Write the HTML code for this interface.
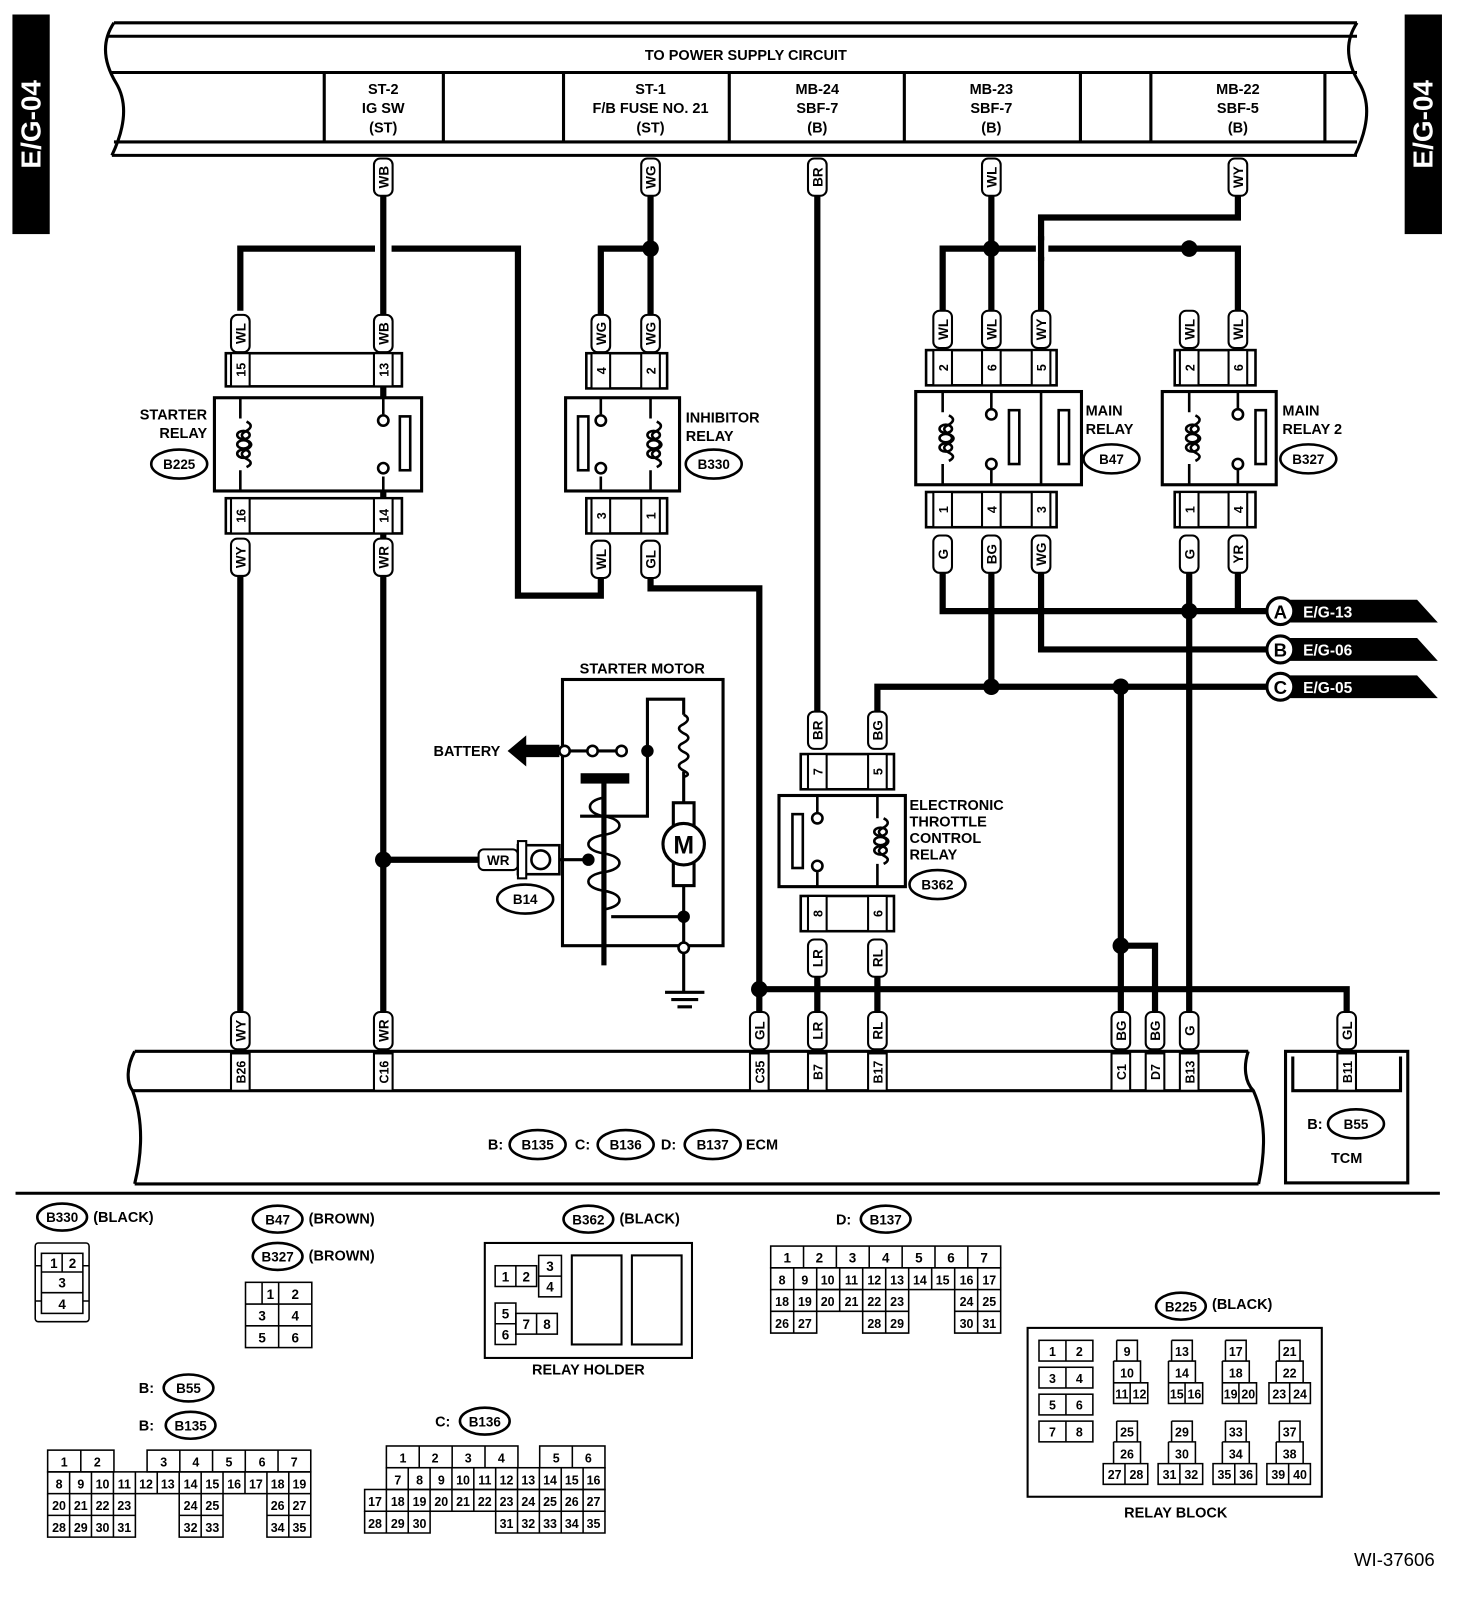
<!DOCTYPE html>
<html><head><meta charset="utf-8"><style>
html,body{margin:0;padding:0;background:#fff}
svg{display:block}
text{font-family:"Liberation Sans",Arial,sans-serif;font-weight:bold;fill:#000}
</style></head><body>
<svg width="1472" height="1620" viewBox="0 0 1421 1564" preserveAspectRatio="none" xmlns="http://www.w3.org/2000/svg">
<defs>
<g id="coil"><path d="M0,-22 q8,4 0,9 q-9,4 0,9 q9,4 0,9 q-9,4 0,9 q8,4 0,8" fill="none" stroke="#000" stroke-width="2.5"/>
<ellipse cx="-3" cy="-9" rx="6" ry="4" fill="none" stroke="#000" stroke-width="2.5"/><ellipse cx="-3" cy="0" rx="6" ry="4" fill="none" stroke="#000" stroke-width="2.5"/><ellipse cx="-3" cy="9" rx="6" ry="4" fill="none" stroke="#000" stroke-width="2.5"/></g>
</defs>

<rect x="12" y="14" width="36" height="212" fill="#000"/>
<text transform="translate(39,120) rotate(-90)" text-anchor="middle" font-size="27" style="fill:#fff">E/G-04</text>
<rect x="1356" y="14" width="36" height="212" fill="#000"/>
<text transform="translate(1383,120) rotate(-90)" text-anchor="middle" font-size="27" style="fill:#fff">E/G-04</text>

<g fill="none" stroke="#000" stroke-width="3">
<path d="M110,22 H1310 M104,35 H1310 M106,70 H1310 M110,137 H1310 M108,150 H1310"/>
<path d="M110,22 C98,40 100,60 112,80 C124,100 120,125 108,150"/>
<path d="M313,70V137 M428,70V137 M544,70V137 M704,70V137 M873,70V137 M1043,70V137 M1111,70V137 M1279,70V137"/>
</g>
<rect x="1312" y="20" width="40" height="135" fill="#fff"/>
<path d="M1310,22 C1298,40 1300,60 1312,80 C1324,100 1320,125 1308,150" fill="none" stroke="#000" stroke-width="3"/>
<g font-size="14" text-anchor="middle">
<text x="720" y="58">TO POWER SUPPLY CIRCUIT</text>
<text x="370" y="91">ST-2</text><text x="370" y="109">IG SW</text><text x="370" y="128">(ST)</text>
<text x="628" y="91">ST-1</text><text x="628" y="109">F/B FUSE NO. 21</text><text x="628" y="128">(ST)</text>
<text x="789" y="91">MB-24</text><text x="789" y="109">SBF-7</text><text x="789" y="128">(B)</text>
<text x="957" y="91">MB-23</text><text x="957" y="109">SBF-7</text><text x="957" y="128">(B)</text>
<text x="1195" y="91">MB-22</text><text x="1195" y="109">SBF-5</text><text x="1195" y="128">(B)</text>
</g>

<g fill="none" stroke="#000" stroke-width="6">
<path d="M370,185V1020"/>
<path d="M232,300V240H362 M378,240H500V575H580V555"/>
<path d="M232,555V1020"/>
<path d="M628,185V305 M580,305V240H628"/>
<path d="M628,555V568H733V1020"/>
<path d="M733,955H1300V1020"/>
<path d="M789,185V690 M789,940V1020 M847,940V1020"/>
<path d="M847,690V663H1222"/>
<path d="M957,185V300 M910,300V240H1195V300"/>
<path d="M1195,185V210H1005V300"/>
<path d="M910,550V590H1222 M1148,550V1020 M1195,550V590"/>
<path d="M957,550V663 M1005,550V627H1222"/>
<path d="M1082,663V1020 M1082,913H1115V1020"/>
<path d="M370,830H462"/>
</g>
<rect x="1000" y="232" width="12" height="16" fill="#fff"/>
<path d="M1005,228V252" stroke="#000" stroke-width="6"/>
<g fill="#000">
<circle cx="628" cy="240" r="8"/><circle cx="957" cy="240" r="8"/><circle cx="1148" cy="240" r="8"/>
<circle cx="1148" cy="590" r="8"/><circle cx="957" cy="663" r="8"/><circle cx="1082" cy="663" r="8"/>
<circle cx="1082" cy="913" r="8"/><circle cx="733" cy="955" r="8"/><circle cx="370" cy="830" r="8"/>
</g>

<g stroke="#000" stroke-width="2" fill="#fff">
<rect x="361" y="153" width="18" height="36" rx="6"/><rect x="619" y="153" width="18" height="36" rx="6"/>
<rect x="780" y="153" width="18" height="36" rx="6"/><rect x="948" y="153" width="18" height="36" rx="6"/>
<rect x="1186" y="153" width="18" height="36" rx="6"/>
<rect x="223" y="304" width="18" height="36" rx="6"/><rect x="361" y="304" width="18" height="36" rx="6"/>
<rect x="571" y="304" width="18" height="36" rx="6"/><rect x="619" y="304" width="18" height="36" rx="6"/>
<rect x="901" y="300" width="18" height="36" rx="6"/><rect x="948" y="300" width="18" height="36" rx="6"/><rect x="996" y="300" width="18" height="36" rx="6"/>
<rect x="1139" y="300" width="18" height="36" rx="6"/><rect x="1186" y="300" width="18" height="36" rx="6"/>
<rect x="223" y="520" width="18" height="36" rx="6"/><rect x="361" y="520" width="18" height="36" rx="6"/>
<rect x="571" y="522" width="18" height="36" rx="6"/><rect x="619" y="522" width="18" height="36" rx="6"/>
<rect x="901" y="517" width="18" height="36" rx="6"/><rect x="948" y="517" width="18" height="36" rx="6"/><rect x="996" y="517" width="18" height="36" rx="6"/>
<rect x="1139" y="517" width="18" height="36" rx="6"/><rect x="1186" y="517" width="18" height="36" rx="6"/>
<rect x="780" y="687" width="18" height="36" rx="6"/><rect x="838" y="687" width="18" height="36" rx="6"/>
<rect x="780" y="907" width="18" height="36" rx="6"/><rect x="838" y="907" width="18" height="36" rx="6"/>
<rect x="223" y="977" width="18" height="36" rx="6"/><rect x="361" y="977" width="18" height="36" rx="6"/>
<rect x="724" y="977" width="18" height="36" rx="6"/><rect x="780" y="977" width="18" height="36" rx="6"/>
<rect x="838" y="977" width="18" height="36" rx="6"/><rect x="1073" y="977" width="18" height="36" rx="6"/>
<rect x="1106" y="977" width="18" height="36" rx="6"/><rect x="1139" y="977" width="18" height="36" rx="6"/>
<rect x="1291" y="977" width="18" height="36" rx="6"/>
</g>
<g font-size="13" text-anchor="middle">
<text transform="translate(375,171) rotate(-90)">WB</text><text transform="translate(633,171) rotate(-90)">WG</text>
<text transform="translate(794,171) rotate(-90)">BR</text><text transform="translate(962,171) rotate(-90)">WL</text>
<text transform="translate(1200,171) rotate(-90)">WY</text>
<text transform="translate(237,322) rotate(-90)">WL</text><text transform="translate(375,322) rotate(-90)">WB</text>
<text transform="translate(585,322) rotate(-90)">WG</text><text transform="translate(633,322) rotate(-90)">WG</text>
<text transform="translate(915,318) rotate(-90)">WL</text><text transform="translate(962,318) rotate(-90)">WL</text><text transform="translate(1010,318) rotate(-90)">WY</text>
<text transform="translate(1153,318) rotate(-90)">WL</text><text transform="translate(1200,318) rotate(-90)">WL</text>
<text transform="translate(237,538) rotate(-90)">WY</text><text transform="translate(375,538) rotate(-90)">WR</text>
<text transform="translate(585,540) rotate(-90)">WL</text><text transform="translate(633,540) rotate(-90)">GL</text>
<text transform="translate(915,535) rotate(-90)">G</text><text transform="translate(962,535) rotate(-90)">BG</text><text transform="translate(1010,535) rotate(-90)">WG</text>
<text transform="translate(1153,535) rotate(-90)">G</text><text transform="translate(1200,535) rotate(-90)">YR</text>
<text transform="translate(794,705) rotate(-90)">BR</text><text transform="translate(852,705) rotate(-90)">BG</text>
<text transform="translate(794,925) rotate(-90)">LR</text><text transform="translate(852,925) rotate(-90)">RL</text>
<text transform="translate(237,995) rotate(-90)">WY</text><text transform="translate(375,995) rotate(-90)">WR</text>
<text transform="translate(738,995) rotate(-90)">GL</text><text transform="translate(794,995) rotate(-90)">LR</text>
<text transform="translate(852,995) rotate(-90)">RL</text><text transform="translate(1087,995) rotate(-90)">BG</text>
<text transform="translate(1120,995) rotate(-90)">BG</text><text transform="translate(1153,995) rotate(-90)">G</text>
<text transform="translate(1305,995) rotate(-90)">GL</text>
</g>

<g fill="#fff" stroke="#000" stroke-width="2.5">
<rect x="218" y="341" width="170" height="32"/><rect x="218" y="481" width="170" height="34"/>
<rect x="566" y="341" width="78" height="34"/><rect x="566" y="481" width="78" height="34"/>
<rect x="894" y="338" width="126" height="34"/><rect x="894" y="475" width="126" height="34"/>
<rect x="1134" y="338" width="78" height="34"/><rect x="1134" y="475" width="78" height="34"/>
<rect x="773" y="728" width="90" height="34"/><rect x="773" y="865" width="90" height="34"/>
</g>
<g fill="#fff" stroke="#000" stroke-width="2">
<rect x="223" y="341" width="18" height="32"/><rect x="361" y="341" width="18" height="32"/>
<rect x="223" y="481" width="18" height="34"/><rect x="361" y="481" width="18" height="34"/>
<rect x="571" y="341" width="18" height="34"/><rect x="619" y="341" width="18" height="34"/>
<rect x="571" y="481" width="18" height="34"/><rect x="619" y="481" width="18" height="34"/>
<rect x="901" y="338" width="18" height="34"/><rect x="948" y="338" width="18" height="34"/><rect x="996" y="338" width="18" height="34"/>
<rect x="901" y="475" width="18" height="34"/><rect x="948" y="475" width="18" height="34"/><rect x="996" y="475" width="18" height="34"/>
<rect x="1139" y="338" width="18" height="34"/><rect x="1186" y="338" width="18" height="34"/>
<rect x="1139" y="475" width="18" height="34"/><rect x="1186" y="475" width="18" height="34"/>
<rect x="780" y="728" width="18" height="34"/><rect x="838" y="728" width="18" height="34"/>
<rect x="780" y="865" width="18" height="34"/><rect x="838" y="865" width="18" height="34"/>
</g>
<g font-size="12" text-anchor="middle">
<text transform="translate(237,357) rotate(-90)">15</text><text transform="translate(375,357) rotate(-90)">13</text>
<text transform="translate(237,498) rotate(-90)">16</text><text transform="translate(375,498) rotate(-90)">14</text>
<text transform="translate(585,358) rotate(-90)">4</text><text transform="translate(633,358) rotate(-90)">2</text>
<text transform="translate(585,498) rotate(-90)">3</text><text transform="translate(633,498) rotate(-90)">1</text>
<text transform="translate(915,355) rotate(-90)">2</text><text transform="translate(962,355) rotate(-90)">6</text><text transform="translate(1010,355) rotate(-90)">5</text>
<text transform="translate(915,492) rotate(-90)">1</text><text transform="translate(962,492) rotate(-90)">4</text><text transform="translate(1010,492) rotate(-90)">3</text>
<text transform="translate(1153,355) rotate(-90)">2</text><text transform="translate(1200,355) rotate(-90)">6</text>
<text transform="translate(1153,492) rotate(-90)">1</text><text transform="translate(1200,492) rotate(-90)">4</text>
<text transform="translate(794,745) rotate(-90)">7</text><text transform="translate(852,745) rotate(-90)">5</text>
<text transform="translate(794,882) rotate(-90)">8</text><text transform="translate(852,882) rotate(-90)">6</text>
</g>

<g fill="#fff" stroke="#000" stroke-width="3">
<rect x="207" y="384" width="200" height="90"/>
<rect x="546" y="384" width="110" height="90"/>
<rect x="884" y="378" width="160" height="90"/>
<rect x="1122" y="378" width="110" height="90"/>
<rect x="752" y="768" width="122" height="88"/>
</g>
<g fill="none" stroke="#000" stroke-width="2.5">
<path d="M232,384V404 M232,454V474 M370,384V400 M370,460V474"/>
<circle cx="370" cy="406" r="5" fill="#fff"/><circle cx="370" cy="452" r="5" fill="#fff"/>
<rect x="386" y="402" width="10" height="52"/>
<path d="M580,384V400 M580,460V474 M628,384V404 M628,454V474"/>
<circle cx="580" cy="406" r="5" fill="#fff"/><circle cx="580" cy="452" r="5" fill="#fff"/>
<rect x="558" y="402" width="10" height="52"/>
<path d="M910,378V398 M910,448V468 M957,378V394 M957,454V468 M1005,378V468"/>
<circle cx="957" cy="400" r="5" fill="#fff"/><circle cx="957" cy="448" r="5" fill="#fff"/>
<rect x="974" y="396" width="10" height="52"/><rect x="1022" y="396" width="10" height="52"/>
<path d="M1148,378V398 M1148,448V468 M1195,378V394 M1195,454V468"/>
<circle cx="1195" cy="400" r="5" fill="#fff"/><circle cx="1195" cy="448" r="5" fill="#fff"/>
<rect x="1212" y="396" width="10" height="52"/>
<path d="M789,768V784 M789,842V856 M847,768V790 M847,834V856"/>
<circle cx="789" cy="790" r="5" fill="#fff"/><circle cx="789" cy="836" r="5" fill="#fff"/>
<rect x="765" y="786" width="10" height="52"/>
</g>
<use href="#coil" x="238" y="429"/><use href="#coil" x="634" y="429"/>
<use href="#coil" x="916" y="423"/><use href="#coil" x="1154" y="423"/><use href="#coil" x="853" y="812"/>

<g font-size="14">
<text x="200" y="405" text-anchor="end">STARTER</text><text x="200" y="423" text-anchor="end">RELAY</text>
<text x="662" y="408">INHIBITOR</text><text x="662" y="426">RELAY</text>
<text x="1048" y="401">MAIN</text><text x="1048" y="419">RELAY</text>
<text x="1238" y="401">MAIN</text><text x="1238" y="419">RELAY 2</text>
<text x="878" y="782">ELECTRONIC</text><text x="878" y="798">THROTTLE</text><text x="878" y="814">CONTROL</text><text x="878" y="830">RELAY</text>
<text x="620" y="650" text-anchor="middle">STARTER MOTOR</text>
<text x="483" y="730" text-anchor="end">BATTERY</text>
</g>
<g fill="#fff" stroke="#000" stroke-width="2.5">
<ellipse cx="173" cy="448" rx="27" ry="14"/><ellipse cx="689" cy="448" rx="27" ry="14"/>
<ellipse cx="1073" cy="443" rx="27" ry="14"/><ellipse cx="1263" cy="443" rx="27" ry="14"/>
<ellipse cx="905" cy="854" rx="27" ry="14"/><ellipse cx="507" cy="868" rx="27" ry="14"/>
</g>
<g font-size="13" text-anchor="middle">
<text x="173" y="453">B225</text><text x="689" y="453">B330</text><text x="1073" y="448">B47</text>
<text x="1263" y="448">B327</text><text x="905" y="859">B362</text><text x="507" y="873">B14</text>
</g>

<g>
<path d="M1236,579H1368L1388,601H1236Z" fill="#000"/>
<path d="M1236,616H1368L1388,638H1236Z" fill="#000"/>
<path d="M1236,652H1368L1388,674H1236Z" fill="#000"/>
<circle cx="1236" cy="590" r="13" fill="#fff" stroke="#000" stroke-width="3"/>
<circle cx="1236" cy="627" r="13" fill="#fff" stroke="#000" stroke-width="3"/>
<circle cx="1236" cy="663" r="13" fill="#fff" stroke="#000" stroke-width="3"/>
<g font-size="18" text-anchor="middle"><text x="1236" y="597">A</text><text x="1236" y="634">B</text><text x="1236" y="670">C</text></g>
<g font-size="15"><text x="1258" y="596" style="fill:#fff">E/G-13</text><text x="1258" y="633" style="fill:#fff">E/G-06</text><text x="1258" y="669" style="fill:#fff">E/G-05</text></g>
</g>

<g fill="none" stroke="#000" stroke-width="3">
<rect x="543" y="656" width="155" height="257"/>
<path d="M545,725H600 M625,725V675H660V690 M660,745V775 M625,725V788H560 M660,855V915 M660,915V958 M590,885H660"/>
<path d="M660,690 q8,4 0,9 q-9,4 0,9 q9,4 0,9 q-9,4 0,9 q9,4 0,9 q-9,4 0,9 q8,4 0,6" stroke-width="2.5"/>
<rect x="650" y="775" width="20" height="80" fill="#fff"/>
<circle cx="660" cy="815" r="20" fill="#fff"/>
<rect x="562" y="748" width="44" height="7" fill="#000"/>
<path d="M583,755V932" stroke-width="5"/>
<path d="M583,770 c-18,3 -18,15 0,18 c20,3 20,15 0,18 c-20,3 -20,15 0,18 c20,3 20,15 0,18 c-20,3 -20,15 0,18 c20,3 20,15 0,18" stroke-width="2.5"/>
<path d="M642,958H680 M648,965H674 M654,972H668"/>
</g>
<text x="660" y="824" font-size="24" text-anchor="middle">M</text>
<g fill="#fff" stroke="#000" stroke-width="2.5">
<circle cx="545" cy="725" r="5"/><circle cx="572" cy="725" r="5"/><circle cx="600" cy="725" r="5"/>
<circle cx="660" cy="915" r="5"/>
</g>
<circle cx="625" cy="725" r="6" fill="#000"/><circle cx="660" cy="885" r="6" fill="#000"/><circle cx="568" cy="830" r="6" fill="#000"/>
<path d="M540,830H568" stroke="#000" stroke-width="3"/>
<path d="M490,725L508,710V719H540V731H508V740Z" fill="#000"/>
<rect x="462" y="820" width="38" height="20" rx="5" fill="#fff" stroke="#000" stroke-width="2"/>
<text x="481" y="835" font-size="13" text-anchor="middle">WR</text>
<rect x="500" y="816" width="40" height="28" fill="#fff" stroke="#000" stroke-width="2.5"/>
<rect x="500" y="812" width="8" height="36" fill="#fff" stroke="#000" stroke-width="2"/>
<circle cx="522" cy="830" r="9" fill="#fff" stroke="#000" stroke-width="2.5"/>

<g fill="none" stroke="#000" stroke-width="3">
<path d="M130,1015H1205 M128,1053H1210 M130,1143H1215"/>
<path d="M130,1015 C122,1030 122,1045 128,1053 C138,1080 138,1110 130,1143"/>
<path d="M1205,1015 C1200,1030 1202,1045 1210,1053 C1222,1080 1222,1110 1215,1143"/>
<rect x="1241" y="1015" width="118" height="127"/>
<path d="M1248,1020V1053H1352V1020"/>
<path d="M15,1152H1390"/>
</g>
<g fill="#fff" stroke="#000" stroke-width="2">
<rect x="223" y="1017" width="18" height="36"/><rect x="361" y="1017" width="18" height="36"/>
<rect x="724" y="1017" width="18" height="36"/><rect x="780" y="1017" width="18" height="36"/>
<rect x="838" y="1017" width="18" height="36"/><rect x="1073" y="1017" width="18" height="36"/>
<rect x="1106" y="1017" width="18" height="36"/><rect x="1139" y="1017" width="18" height="36"/>
<rect x="1291" y="1017" width="18" height="36"/>
</g>
<g font-size="12" text-anchor="middle">
<text transform="translate(237,1035) rotate(-90)">B26</text><text transform="translate(375,1035) rotate(-90)">C16</text>
<text transform="translate(738,1035) rotate(-90)">C35</text><text transform="translate(794,1035) rotate(-90)">B7</text>
<text transform="translate(852,1035) rotate(-90)">B17</text><text transform="translate(1087,1035) rotate(-90)">C1</text>
<text transform="translate(1120,1035) rotate(-90)">D7</text><text transform="translate(1153,1035) rotate(-90)">B13</text>
<text transform="translate(1305,1035) rotate(-90)">B11</text>
</g>
<g fill="#fff" stroke="#000" stroke-width="2.5">
<ellipse cx="519" cy="1105" rx="27" ry="14"/><ellipse cx="604" cy="1105" rx="27" ry="14"/>
<ellipse cx="688" cy="1105" rx="27" ry="14"/><ellipse cx="1309" cy="1085" rx="27" ry="14"/>
</g>
<g font-size="14">
<text x="471" y="1110">B:</text><text x="519" y="1110" text-anchor="middle" font-size="13">B135</text>
<text x="555" y="1110">C:</text><text x="604" y="1110" text-anchor="middle" font-size="13">B136</text>
<text x="638" y="1110">D:</text><text x="688" y="1110" text-anchor="middle" font-size="13">B137</text>
<text x="720" y="1110">ECM</text>
<text x="1262" y="1090">B:</text><text x="1309" y="1090" text-anchor="middle" font-size="13">B55</text>
<text x="1300" y="1123" text-anchor="middle">TCM</text>
</g>

<g fill="#fff" stroke="#000" stroke-width="2.5">
<ellipse cx="60" cy="1175" rx="24" ry="13"/><ellipse cx="268" cy="1177" rx="24" ry="13"/><ellipse cx="268" cy="1213" rx="24" ry="13"/>
<ellipse cx="568" cy="1177" rx="24" ry="13"/><ellipse cx="855" cy="1177" rx="24" ry="13"/><ellipse cx="1140" cy="1261" rx="24" ry="13"/>
<ellipse cx="182" cy="1340" rx="24" ry="13"/><ellipse cx="184" cy="1376" rx="24" ry="13"/><ellipse cx="468" cy="1372" rx="24" ry="13"/>
</g>
<g font-size="13" text-anchor="middle">
<text x="60" y="1180">B330</text><text x="268" y="1182">B47</text><text x="268" y="1218">B327</text>
<text x="568" y="1182">B362</text><text x="855" y="1182">B137</text><text x="1140" y="1266">B225</text>
<text x="182" y="1345">B55</text><text x="184" y="1381">B135</text><text x="468" y="1377">B136</text>
</g>
<g font-size="14">
<text x="90" y="1180">(BLACK)</text><text x="298" y="1181">(BROWN)</text><text x="298" y="1217">(BROWN)</text>
<text x="598" y="1181">(BLACK)</text><text x="807" y="1182">D:</text><text x="1170" y="1264">(BLACK)</text>
<text x="134" y="1345">B:</text><text x="134" y="1381">B:</text><text x="420" y="1377">C:</text>
<text x="568" y="1327" text-anchor="middle">RELAY HOLDER</text>
<text x="1135" y="1465" text-anchor="middle">RELAY BLOCK</text>
<text x="1385" y="1512" text-anchor="end" font-size="18" style="font-weight:normal">WI-37606</text>
</g>

<g fill="none" stroke="#000" stroke-width="1.5">
<rect x="34" y="1200" width="52" height="76" rx="3"/>
<rect x="40" y="1210" width="40" height="58"/>
<path d="M40,1228H80 M40,1248H80 M60,1210V1228 M34,1222H40 M34,1256H40 M80,1222H86 M80,1256H86"/>
<rect x="237" y="1238" width="64" height="63"/>
<path d="M237,1259H301 M237,1280H301 M269,1238V1301 M253,1238V1259"/>
<rect x="468" y="1200" width="200" height="111" stroke-width="2"/>
<rect x="478" y="1222" width="40" height="20"/><path d="M498,1222V1242"/>
<rect x="520" y="1212" width="22" height="40"/><path d="M520,1232H542"/>
<rect x="478" y="1258" width="20" height="40"/><path d="M478,1278H498"/>
<rect x="498" y="1268" width="40" height="20"/><path d="M518,1268V1288"/>
<rect x="552" y="1212" width="48" height="86" stroke-width="2"/>
<rect x="610" y="1212" width="48" height="86" stroke-width="2"/>
</g>
<g font-size="13" text-anchor="middle">
<text x="52" y="1224">1</text><text x="70" y="1224">2</text>
<text x="60" y="1243">3</text><text x="60" y="1264">4</text>
<text x="261" y="1254">1</text><text x="285" y="1254">2</text>
<text x="253" y="1275">3</text><text x="285" y="1275">4</text>
<text x="253" y="1296">5</text><text x="285" y="1296">6</text>
<text x="488" y="1237">1</text><text x="508" y="1237">2</text>
<text x="531" y="1227">3</text><text x="531" y="1247">4</text>
<text x="488" y="1273">5</text><text x="488" y="1293">6</text>
<text x="508" y="1283">7</text><text x="528" y="1283">8</text>
</g>

<g fill="none" stroke="#000" stroke-width="1.5">
<rect x="744" y="1203" width="222" height="21"/>
<path d="M775.7,1203V1224 M807.4,1203V1224 M839.1,1203V1224 M870.9,1203V1224 M902.6,1203V1224 M934.3,1203V1224"/>
<rect x="744" y="1224" width="222" height="21"/>
<path d="M766.2,1224V1245 M788.4,1224V1245 M810.6,1224V1245 M832.8,1224V1245 M855,1224V1245 M877.2,1224V1245 M899.4,1224V1245 M921.6,1224V1245 M943.8,1224V1245"/>
<path d="M744,1245V1287H788.4V1245 M766.2,1245V1287 M744,1266H788.4 M788.4,1245H832.8V1266H788.4 M810.6,1245V1266"/>
<path d="M832.8,1245V1287H877.2V1245 M855,1245V1287 M832.8,1266H877.2"/>
<path d="M921.6,1245V1287H966V1245 M943.8,1245V1287 M921.6,1266H966"/>
</g>
<g font-size="13" text-anchor="middle">
<text x="760" y="1219">1</text><text x="791" y="1219">2</text><text x="823" y="1219">3</text><text x="855" y="1219">4</text><text x="887" y="1219">5</text><text x="918" y="1219">6</text><text x="950" y="1219">7</text>
<g font-size="12"><text x="755" y="1240">8</text><text x="777" y="1240">9</text><text x="799" y="1240">10</text><text x="822" y="1240">11</text><text x="844" y="1240">12</text><text x="866" y="1240">13</text><text x="888" y="1240">14</text><text x="910" y="1240">15</text><text x="933" y="1240">16</text><text x="955" y="1240">17</text>
<text x="755" y="1261">18</text><text x="777" y="1261">19</text><text x="799" y="1261">20</text><text x="822" y="1261">21</text><text x="844" y="1261">22</text><text x="866" y="1261">23</text><text x="933" y="1261">24</text><text x="955" y="1261">25</text>
<text x="755" y="1282">26</text><text x="777" y="1282">27</text><text x="844" y="1282">28</text><text x="866" y="1282">29</text><text x="933" y="1282">30</text><text x="955" y="1282">31</text></g>
</g>

<g fill="none" stroke="#000" stroke-width="1.5">
<rect x="46" y="1400" width="64" height="21"/><path d="M78,1400V1421"/>
<rect x="142" y="1400" width="158" height="21"/><path d="M173.6,1400V1421 M205.2,1400V1421 M236.8,1400V1421 M268.4,1400V1421"/>
<rect x="46" y="1421" width="254" height="21"/>
<path d="M67.2,1421V1442 M88.3,1421V1442 M109.5,1421V1442 M130.7,1421V1442 M151.8,1421V1442 M173,1421V1442 M194.2,1421V1442 M215.3,1421V1442 M236.5,1421V1442 M257.7,1421V1442 M278.8,1421V1442"/>
<path d="M46,1442V1484H130.7V1442 M67.2,1442V1484 M88.3,1442V1484 M109.5,1442V1484 M46,1463H130.7"/>
<path d="M173,1442V1484H215.3V1442 M194.2,1442V1484 M173,1463H215.3"/>
<path d="M257.7,1442V1484H300V1442 M278.8,1442V1484 M257.7,1463H300"/>
</g>
<g font-size="12" text-anchor="middle">
<text x="62" y="1416">1</text><text x="94" y="1416">2</text><text x="158" y="1416">3</text><text x="189" y="1416">4</text><text x="221" y="1416">5</text><text x="253" y="1416">6</text><text x="284" y="1416">7</text>
<text x="57" y="1437">8</text><text x="78" y="1437">9</text><text x="99" y="1437">10</text><text x="120" y="1437">11</text><text x="141" y="1437">12</text><text x="162" y="1437">13</text><text x="184" y="1437">14</text><text x="205" y="1437">15</text><text x="226" y="1437">16</text><text x="247" y="1437">17</text><text x="268" y="1437">18</text><text x="289" y="1437">19</text>
<text x="57" y="1458">20</text><text x="78" y="1458">21</text><text x="99" y="1458">22</text><text x="120" y="1458">23</text><text x="184" y="1458">24</text><text x="205" y="1458">25</text><text x="268" y="1458">26</text><text x="289" y="1458">27</text>
<text x="57" y="1479">28</text><text x="78" y="1479">29</text><text x="99" y="1479">30</text><text x="120" y="1479">31</text><text x="184" y="1479">32</text><text x="205" y="1479">33</text><text x="268" y="1479">34</text><text x="289" y="1479">35</text>
</g>

<g fill="none" stroke="#000" stroke-width="1.5">
<rect x="373" y="1396" width="127" height="21"/><path d="M404.7,1396V1417 M436.5,1396V1417 M468.2,1396V1417"/>
<rect x="521" y="1396" width="63" height="21"/><path d="M552.5,1396V1417"/>
<rect x="373" y="1417" width="211" height="21"/>
<path d="M394.1,1417V1438 M415.2,1417V1438 M436.3,1417V1438 M457.4,1417V1438 M478.5,1417V1438 M499.6,1417V1438 M520.7,1417V1438 M541.8,1417V1438 M562.9,1417V1438"/>
<rect x="352" y="1438" width="232" height="21"/>
<path d="M373,1438V1459 M394.1,1438V1459 M415.2,1438V1459 M436.3,1438V1459 M457.4,1438V1459 M478.5,1438V1459 M499.6,1438V1459 M520.7,1438V1459 M541.8,1438V1459 M562.9,1438V1459"/>
<path d="M352,1459V1480H415.2V1459 M373,1459V1480 M394.1,1459V1480"/>
<path d="M478.5,1459V1480H584V1459 M499.6,1459V1480 M520.7,1459V1480 M541.8,1459V1480 M562.9,1459V1480"/>
</g>
<g font-size="12" text-anchor="middle">
<text x="389" y="1412">1</text><text x="420" y="1412">2</text><text x="452" y="1412">3</text><text x="484" y="1412">4</text><text x="537" y="1412">5</text><text x="568" y="1412">6</text>
<text x="384" y="1433">7</text><text x="405" y="1433">8</text><text x="426" y="1433">9</text><text x="447" y="1433">10</text><text x="468" y="1433">11</text><text x="489" y="1433">12</text><text x="510" y="1433">13</text><text x="531" y="1433">14</text><text x="552" y="1433">15</text><text x="573" y="1433">16</text>
<text x="362" y="1454">17</text><text x="384" y="1454">18</text><text x="405" y="1454">19</text><text x="426" y="1454">20</text><text x="447" y="1454">21</text><text x="468" y="1454">22</text><text x="489" y="1454">23</text><text x="510" y="1454">24</text><text x="531" y="1454">25</text><text x="552" y="1454">26</text><text x="573" y="1454">27</text>
<text x="362" y="1475">28</text><text x="384" y="1475">29</text><text x="405" y="1475">30</text><text x="489" y="1475">31</text><text x="510" y="1475">32</text><text x="531" y="1475">33</text><text x="552" y="1475">34</text><text x="573" y="1475">35</text>
</g>

<g fill="none" stroke="#000" stroke-width="1.5">
<rect x="992" y="1282" width="284" height="163" stroke-width="2"/>
<rect x="1003" y="1294" width="52" height="20"/><path d="M1029,1294V1314"/>
<rect x="1003" y="1320" width="52" height="20"/><path d="M1029,1320V1340"/>
<rect x="1003" y="1346" width="52" height="20"/><path d="M1029,1346V1366"/>
<rect x="1003" y="1372" width="52" height="20"/><path d="M1029,1372V1392"/>
<path d="M1078,1294H1098V1314 M1078,1294V1314 M1075,1314H1101V1335 M1075,1314V1335 M1075,1335H1108V1355H1075Z M1091,1335V1355"/>
<path d="M1131,1294H1151V1314 M1131,1294V1314 M1128,1314H1154V1335 M1128,1314V1335 M1128,1335H1161V1355H1128Z M1144,1335V1355"/>
<path d="M1183,1294H1203V1314 M1183,1294V1314 M1180,1314H1206V1335 M1180,1314V1335 M1180,1335H1213V1355H1180Z M1196,1335V1355"/>
<path d="M1235,1294H1255V1314 M1235,1294V1314 M1232,1314H1258V1335 M1232,1314V1335 M1225,1335H1265V1355H1225Z M1245,1335V1355"/>
<path d="M1078,1372H1098V1392 M1078,1372V1392 M1075,1392H1101V1413 M1075,1392V1413 M1065,1413H1108V1433H1065Z M1086,1413V1433"/>
<path d="M1131,1372H1151V1392 M1131,1372V1392 M1128,1392H1154V1413 M1128,1392V1413 M1118,1413H1161V1433H1118Z M1139,1413V1433"/>
<path d="M1183,1372H1203V1392 M1183,1372V1392 M1180,1392H1206V1413 M1180,1392V1413 M1171,1413H1213V1433H1171Z M1192,1413V1433"/>
<path d="M1235,1372H1255V1392 M1235,1372V1392 M1232,1392H1258V1413 M1232,1392V1413 M1223,1413H1265V1433H1223Z M1244,1413V1433"/>
</g>
<g font-size="12" text-anchor="middle">
<text x="1016" y="1309">1</text><text x="1042" y="1309">2</text>
<text x="1016" y="1335">3</text><text x="1042" y="1335">4</text>
<text x="1016" y="1361">5</text><text x="1042" y="1361">6</text>
<text x="1016" y="1387">7</text><text x="1042" y="1387">8</text>
<text x="1088" y="1309">9</text><text x="1088" y="1330">10</text><text x="1083" y="1350">11</text><text x="1100" y="1350">12</text>
<text x="1141" y="1309">13</text><text x="1141" y="1330">14</text><text x="1136" y="1350">15</text><text x="1153" y="1350">16</text>
<text x="1193" y="1309">17</text><text x="1193" y="1330">18</text><text x="1188" y="1350">19</text><text x="1205" y="1350">20</text>
<text x="1245" y="1309">21</text><text x="1245" y="1330">22</text><text x="1235" y="1350">23</text><text x="1255" y="1350">24</text>
<text x="1088" y="1387">25</text><text x="1088" y="1408">26</text><text x="1076" y="1428">27</text><text x="1097" y="1428">28</text>
<text x="1141" y="1387">29</text><text x="1141" y="1408">30</text><text x="1129" y="1428">31</text><text x="1150" y="1428">32</text>
<text x="1193" y="1387">33</text><text x="1193" y="1408">34</text><text x="1182" y="1428">35</text><text x="1203" y="1428">36</text>
<text x="1245" y="1387">37</text><text x="1245" y="1408">38</text><text x="1234" y="1428">39</text><text x="1255" y="1428">40</text>
</g>
</svg>
</body></html>
